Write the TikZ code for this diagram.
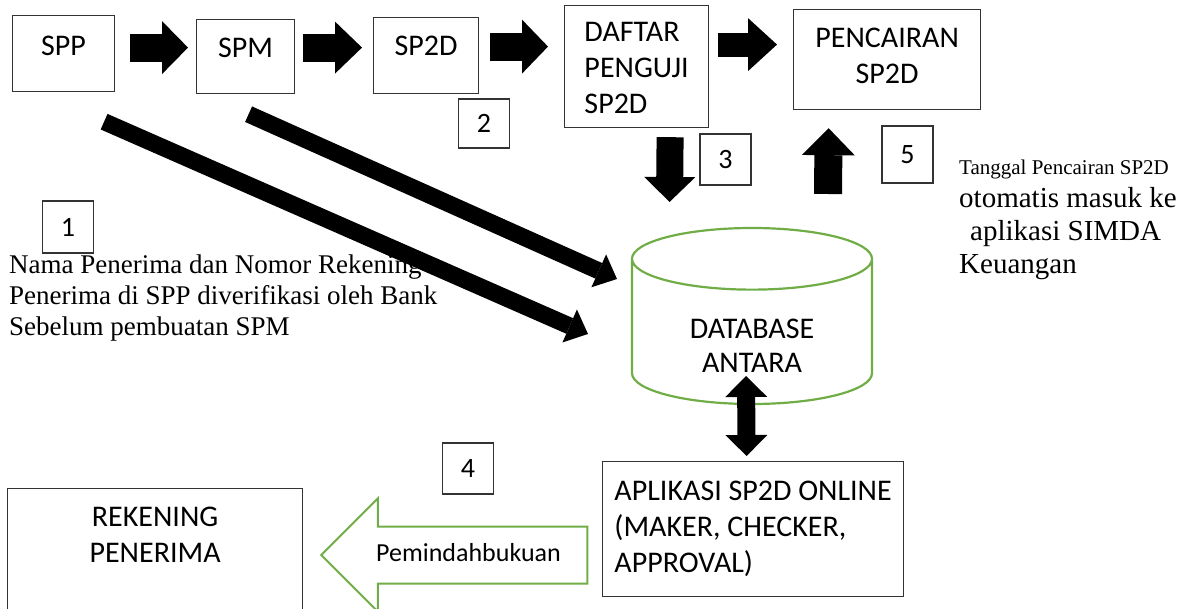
\documentclass[tikz,border=0pt]{standalone}
\usepackage{fontspec}
\setmainfont{Liberation Serif}
\setsansfont{Carlito}
\usetikzlibrary{shapes.geometric,shapes.arrows,arrows.meta}
\definecolor{grn}{RGB}{112,173,71}

\begin{document}
\begin{tikzpicture}
[ x=1pt, y=-1pt,
block/.style ={rectangle, draw=black!80, line width=1.2pt, anchor=north west,
 inner ysep=0pt, text height=38pt, align=center,
 font=\sffamily\fontsize{30}{36}\selectfont},
num/.style ={rectangle, draw=black!80, line width=1.2pt, minimum width=51pt,
 minimum height=51pt, font=\sffamily\fontsize{28}{34}\selectfont},
note/.style ={anchor=base west, inner sep=0pt, align=left},
blk/.style n args={3}{draw=black, line width=#1,
 -{Triangle[width=#2,length=#3,line width=0pt]}},
dblk/.style n args={3}{draw=black, line width=#1,
 {Triangle[width=#2,length=#3,line width=0pt]}-{Triangle[width=#2,length=#3,line width=0pt]}},
]
\useasboundingbox (0,0) rectangle (1185,609);
\clip (0,0) rectangle (1185,609);

% boxes
\node (spp) [block, minimum width=102pt, text height=40pt, text depth=36pt] at (12,15) {SPP};
\node (spm) [block, minimum width=98pt, text depth=36pt] at (196,19) {SPM};
\node (sptd) [block, minimum width=105pt, text depth=38pt] at (373,17) {SP2D};
\node (dp) [block, minimum width=144pt, text height=108pt, text depth=14pt, align=left] at (564,5) {DAFTAR\\PENGUJI\\SP2D};
\node (pc) [block, minimum width=187pt, text height=74pt, text depth=26pt] at (793,9) {PENCAIRAN\\SP2D};
\node (apl) [block, minimum width=301pt, text height=111pt, text depth=24pt, align=left] at (602,461) {APLIKASI SP2D ONLINE\\(MAKER, CHECKER,\\APPROVAL)};
\node (rek) [block, minimum width=295pt, text height=74pt, text depth=94pt] at (7,488) {REKENING\\PENERIMA};
\node (db) [cylinder, shape border rotate=90, draw=grn, line width=2.2pt, aspect=0.47,
 minimum height=176pt, minimum width=240pt, align=center, text height=73pt, text depth=0pt,
 font=\sffamily\fontsize{30}{34}\selectfont, anchor=shape center] at (752,316) {DATABASE\\ANTARA};
\node (pb) [single arrow, draw=grn, line width=2pt, shape border rotate=180,
 single arrow head extend=28pt, minimum height=266pt, inner ysep=15pt,
 text height=19pt, text depth=6pt, font=\sffamily\fontsize{26}{30}\selectfont] at (468.5,555) {Pemindahbukuan};

% numbers
\node (n1) [num, minimum height=52pt] at (68,227) {1};
\node (n2) [num, minimum height=49pt] at (484,123.5) {2};
\node (n3) [num] at (725.5,159.5) {3};
\node (n4) [num] at (468,468.5) {4};
\node (n5) [num, minimum height=57pt] at (907.5,154.5) {5};

% notes
\node (t1) [note, font=\fontsize{27}{31}\selectfont] at (9,335)
 {Nama Penerima dan Nomor Rekening\\Penerima di SPP diverifikasi oleh Bank\\Sebelum pembuatan SPM};
\node (t5) [note, font=\fontsize{29}{33}\selectfont] at (959,274)
 {{\fontsize{21}{25}\selectfont Tanggal Pencairan SP2D}\\otomatis masuk ke\\\hspace{11pt}aplikasi SIMDA\\Keuangan};

% arrows
\draw[blk={28pt}{53pt}{26pt}] ([shift={(15,-6)}]spp.east) -- ([shift={(-8,-9)}]spm.west);
\draw[blk={28pt}{52pt}{27pt}] ([shift={(8,-9)}]spm.east) -- ([shift={(-11,-8)}]sptd.west);
\draw[blk={28pt}{54pt}{26pt}] ([shift={(11,-9)}]sptd.east) -- ([shift={(-16,-20)}]dp.west);
\draw[blk={24pt}{53pt}{29pt}] ([shift={(9,-22)}]dp.east) -- ([shift={(-16,-15)}]pc.west);
\draw[blk={27pt}{51pt}{25pt}] ([shift={(33.5,9)}]dp.south) -- ([shift={(-82.5,-114)}]db.shape center);
\draw[blk={28pt}{53pt}{27pt}] ([shift={(76,-122)}]db.shape center) -- ([shift={(-58.5,18)}]pc.south);
\draw[dblk={18pt}{42pt}{21pt}] ([shift={(-6,60)}]db.shape center) -- ([shift={(-6.5,-5)}]apl.north);
\draw[blk={17pt}{36pt}{20pt}] ([shift={(40.5,29.5)}]spp.south) -- ([shift={(-164,18)}]db.shape center);
\draw[blk={17pt}{36pt}{20pt}] ([shift={(3,20)}]spm.south) -- ([shift={(-135,-37)}]db.shape center);
\end{tikzpicture}
\end{document}
